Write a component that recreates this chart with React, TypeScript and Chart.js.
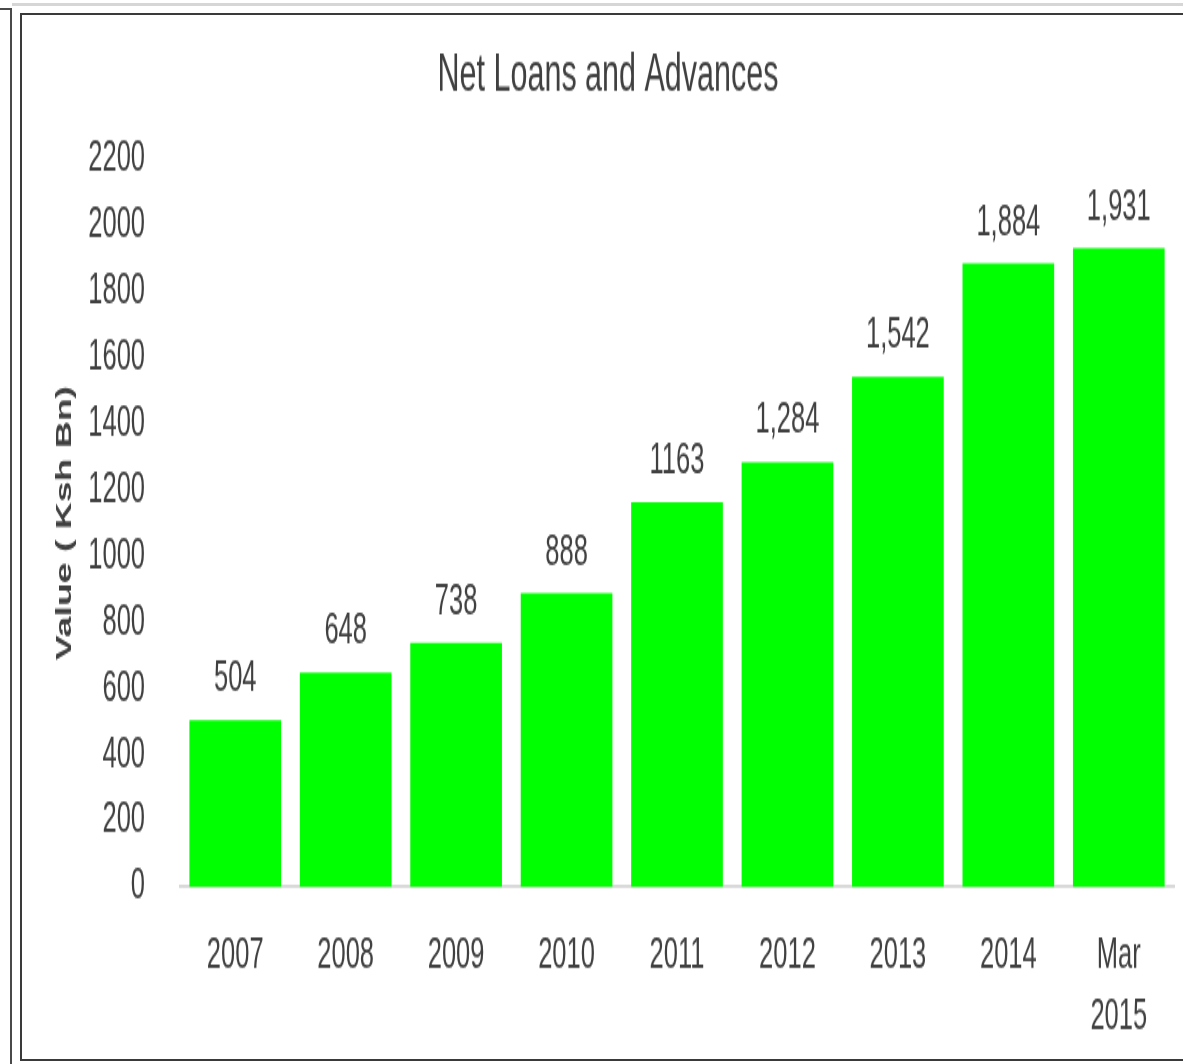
import { useEffect, useRef } from "react";
import { Chart, registerables } from "chart.js";

Chart.register(...registerables);

// ---- data ----
const categories: (string | string[])[] = ["2007", "2008", "2009", "2010", "2011", "2012", "2013", "2014", ["Mar", "2015"]];
const loanValues: number[] = [504, 648, 738, 888, 1163, 1284, 1542, 1884, 1931];
const valueLabels: string[] = ["504", "648", "738", "888", "1163", "1,284", "1,542", "1,884", "1,931"];
const chartTitle = "Net Loans and Advances";
const yAxisTitle = "Value ( Ksh Bn)";
const yMin = 0;
const yMax = 2200;
const yStep = 200;

// ---- drawing constants ----
const FONT = '"Liberation Sans", Arial, sans-serif';
const TEXT = "#404040";
const CSS_W = 1161;
const CSS_H = 1042;
const STRETCH = 1.7;
const BUF_H = Math.round(CSS_H / STRETCH);
const PAD_LEFT = 20;
const PAD_BOTTOM = 1;
const Y_AXIS_WIDTH = 138;
const X_AXIS_HEIGHT = BUF_H - PAD_BOTTOM - 512.4;

const valueLabelPlugin = {
  id: "barValueLabels",
  afterDatasetsDraw(chart: any) {
    const ctx = chart.ctx;
    const meta = chart.getDatasetMeta(0);
    ctx.save();
    ctx.font = `25.5px ${FONT}`;
    ctx.fillStyle = TEXT;
    ctx.textAlign = "center";
    ctx.textBaseline = "middle";
    meta.data.forEach((bar: any, i: number) => {
      ctx.fillText(valueLabels[i], bar.x, bar.y - 24);
    });
    ctx.restore();
  },
};

export default function App() {
  const canvasRef = useRef<HTMLCanvasElement | null>(null);

  useEffect(() => {
    if (!canvasRef.current) return;
    const chart = new Chart(canvasRef.current, {
      type: "bar",
      data: {
        labels: categories as any,
        datasets: [
          {
            data: loanValues,
            backgroundColor: "#00FF00",
            borderWidth: 0,
            categoryPercentage: 1,
            barPercentage: 0.83,
          },
        ],
      },
      options: {
        responsive: false,
        animation: false,
        devicePixelRatio: 1,
        layout: { padding: { left: PAD_LEFT, right: 9, top: 10, bottom: PAD_BOTTOM } },
        plugins: {
          legend: { display: false },
          tooltip: { enabled: false },
          title: {
            display: true,
            text: chartTitle,
            color: TEXT,
            font: { family: FONT, size: 30.5, weight: "normal" as any, lineHeight: 1.2 },
            padding: { top: 7, bottom: 30.5 },
          },
        },
        scales: {
          x: {
            grid: { display: false, drawTicks: false },
            border: { display: true, color: "#d9d9d9", width: 2 },
            ticks: {
              color: TEXT,
              font: { family: FONT, size: 25.5, lineHeight: 1.41 },
              padding: 22.5,
              maxRotation: 0,
              autoSkip: false,
            },
            afterFit: (scale: any) => {
              scale.height = X_AXIS_HEIGHT;
            },
          },
          y: {
            min: yMin,
            max: yMax,
            grid: { display: false, drawTicks: false },
            border: { display: false },
            ticks: {
              stepSize: yStep,
              color: TEXT,
              font: { family: FONT, size: 25.5 },
              padding: 35,
              callback: (v: any) => String(v),
            },
            title: {
              display: true,
              text: yAxisTitle,
              color: TEXT,
              font: { family: FONT, size: 22, weight: "bold" as any, lineHeight: 1.2 },
              padding: { top: 10, bottom: 10 },
            },
            afterFit: (scale: any) => {
              scale.width = Y_AXIS_WIDTH;
            },
          },
        },
      },
      plugins: [valueLabelPlugin],
    });
    return () => chart.destroy();
  }, []);

  return (
    <div style={{ position: "fixed", left: 0, top: 0, width: 1183, height: 1064, background: "#ffffff", overflow: "hidden" }}>
      <div style={{ position: "absolute", left: 12, top: 3, width: 1171, height: 3, background: "#d6d6d6" }} />
      <div
        style={{
          position: "absolute",
          left: -2,
          top: 8,
          width: 12,
          height: 1070,
          borderTop: "2px solid #4a4a4a",
          borderRight: "2px solid #4a4a4a",
        }}
      />
      <div
        style={{
          position: "absolute",
          left: 20,
          top: 13,
          width: 1200,
          height: 1044,
          border: "2px solid #3a3a3a",
        }}
      />
      <canvas
        ref={canvasRef}
        width={CSS_W}
        height={BUF_H}
        style={{ position: "absolute", left: 22, top: 16, width: CSS_W, height: CSS_H, display: "block" }}
      />
    </div>
  );
}
